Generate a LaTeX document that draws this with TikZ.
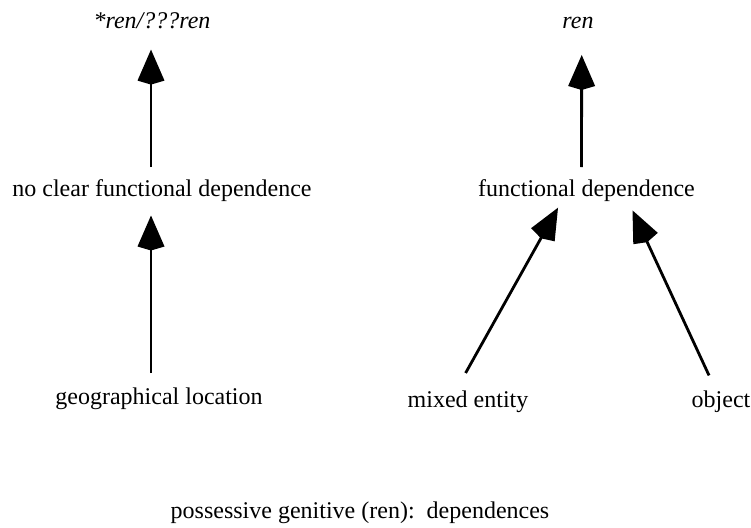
\documentclass[tikz,border=0pt]{standalone}
\usepackage{fontspec}
\setmainfont{Liberation Serif}
\usetikzlibrary{arrows.meta,calc}
\begin{document}
\begin{tikzpicture}[x=1pt,y=-1pt,
  lbl/.style={inner sep=0pt,outer sep=0pt,anchor=base,text height=17pt,text depth=5pt,font=\fontsize{24}{28}\selectfont},
  arr/.style={line width=2.8pt,-{Kite[length=35pt,width=27pt,inset=4pt]}}]
\useasboundingbox (0,0) rectangle (751,527);
% labels
\node[lbl] (star) at (152,28.6) {\itshape *ren/???ren};
\node[lbl] (noclear) at (162,196) {no clear functional dependence};
\node[lbl] (geo) at (159,404) {geographical location};
\node[lbl] (ren) at (578,28.6) {\itshape ren};
\node[lbl] (fd) at (586.5,196) {functional dependence};
\node[lbl] (mixed) at (468,407) {mixed entity};
\node[lbl] (object) at (721,407) {object};
\node[lbl] (caption) at (360,518.5) {possessive genitive (ren):\ \ dependences};
% connectors
\draw[arr] ($(noclear.north)+(-11,-12)$) -- ($(star.south)+(-1,16)$);
\draw[arr] ($(geo.north)+(-8,-14)$) -- ($(noclear.south)+(-11,14.5)$);
\draw[arr] ($(fd.north)+(-5,-12)$) -- ($(ren.south)+(3.7,21.4)$);
\draw[arr] ($(mixed.north)+(-2.4,-17)$) -- ($(fd.south)+(-28.5,6.7)$);
\draw[arr] ($(object.north)+(-12,-14.6)$) -- ($(fd.south)+(46,9.4)$);
\end{tikzpicture}
\end{document}
